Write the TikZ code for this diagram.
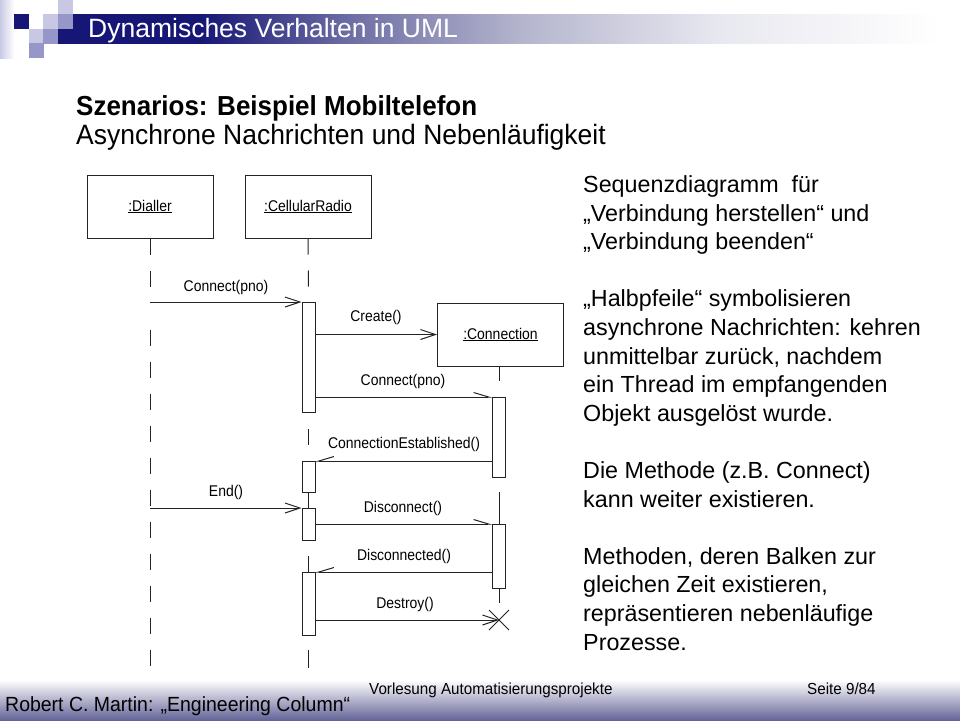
\documentclass[tikz,border=0pt]{standalone}
\usepackage{fontspec}
\setmainfont{Liberation Sans}
\newfontfamily\condfont[FakeStretch=0.95]{Liberation Sans}
\newfontfamily\diafont[FakeStretch=0.9]{Liberation Sans}
\newfontfamily\subfont[FakeStretch=0.945]{Liberation Sans}
\usetikzlibrary{arrows.meta,calc}
\definecolor{navy}{RGB}{22,22,118}
\definecolor{barA}{RGB}{110,110,165}
\definecolor{barB}{RGB}{180,180,205}
\definecolor{barC}{RGB}{232,232,240}
\definecolor{logolight}{RGB}{200,200,228}
\definecolor{logomid}{RGB}{150,150,200}
\definecolor{footblue}{RGB}{100,100,152}
\definecolor{ink}{RGB}{35,35,35}
\pgfdeclarehorizontalshading{titlebar}{100bp}{color(0bp)=(navy); color(25bp)=(navy);
  color(33.05bp)=(navy); color(41.55bp)=(barA); color(51.19bp)=(barB);
  color(62.53bp)=(barC); color(75bp)=(white); color(100bp)=(white)}
\begin{document}
\begin{tikzpicture}[x=1pt,y=-1pt,
  lw/.style={line width=1pt, draw=ink},
  obj/.style={lw, fill=white, minimum width=126pt, minimum height=63pt, inner sep=0pt,
    font=\diafont\fontsize{15.5}{18}\selectfont},
  actbar/.style={lw, fill=white, minimum width=13pt, inner sep=0pt, anchor=north},
  lifeline/.style={lw, dash pattern=on 16pt off 16pt},
  msglabel/.style={font=\diafont\fontsize{15.5}{18}\selectfont, inner sep=0pt, text=black},
  openmsg/.style={lw, -{Straight Barb[length=15pt,width=10pt,line width=1pt]}},
  halfmsg/.style={lw, -{Straight Barb[length=15pt,width=9pt,harpoon,line width=1pt]}},
  halfmsgl/.style={lw, -{Straight Barb[length=15pt,width=9pt,harpoon,swap,line width=1pt]}},
  sq/.style={minimum size=14.5pt, inner sep=0pt, anchor=north west},
  body/.style={anchor=base west, inner sep=0pt, font=\fontsize{23.3}{27}\selectfont},
  foot/.style={anchor=base west, inner sep=0pt, text=black}
]
\useasboundingbox (0,0) rectangle (960,720);
\fill[white] (0,0) rectangle (960,720);

% ---------- header ----------
\shade[left color=logolight, right color=white] (0,0) rectangle (14,58);
\shade[shading=titlebar] (58,14) rectangle (940,43);
\node[sq, fill=navy] (sq1) at (14,14) {};
\node[sq, fill=logolight] (sq2) at (43,14) {};
\node[sq, fill=logolight] (sq3) at (58,0) {};
\node[sq, fill=logomid] (sq4) at (58,14) {};
\node[sq, fill=logolight] (sq5) at (29,29) {};
\node[sq, fill=logomid] (sq6) at (43,29) {};
\node[sq, fill=logomid] (sq7) at (29,43) {};
\node[anchor=base west, inner sep=0pt, text=white, font=\fontsize{26.5}{30}\selectfont]
  (title) at (88,37) {Dynamisches Verhalten in UML};

\node[anchor=base west, inner sep=0pt, font=\subfont\fontsize{27.5}{30}\selectfont\bfseries]
  (sub1) at (76,115.5) {Szenarios: Beispiel Mobiltelefon};
\node[anchor=base west, inner sep=0pt, font=\subfont\fontsize{28}{30}\selectfont]
  (sub2) at (76,144.5) {Asynchrone Nachrichten und Nebenläufigkeit};

% ---------- right text ----------
\node[body] (t1) at (583,192.5) {Sequenzdiagramm\ \ für};
\node[body] (t2) at (583,221.1) {„Verbindung herstellen“\ und};
\node[body] (t3) at (583,249.7) {„Verbindung beenden“};
\node[body] (t4) at (583,306.9) {„Halbpfeile“\ symbolisieren};
\node[body] (t5) at (583,335.5) {asynchrone Nachrichten: kehren};
\node[body] (t6) at (583,364.1) {unmittelbar zurück, nachdem};
\node[body] (t7) at (583,392.7) {ein Thread im empfangenden};
\node[body] (t8) at (583,421.3) {Objekt ausgelöst wurde.};
\node[body] (t9) at (583,478.5) {Die Methode (z.B. Connect)};
\node[body] (t10) at (583,507.1) {kann weiter existieren.};
\node[body] (t11) at (583,564.3) {Methoden, deren Balken zur};
\node[body] (t12) at (583,592.9) {gleichen Zeit existieren,};
\node[body] (t13) at (583,621.5) {repräsentieren nebenläufige};
\node[body] (t14) at (583,650.1) {Prozesse.};

% ---------- sequence diagram ----------
\node[obj] (dial) at (150,206.5) {\underline{:Dialler}};
\node[obj] (cell) at (308,206.5) {\underline{:CellularRadio}};
\node[obj] (conn) at (500.5,334.5) {\underline{:Connection}};

% activation bars
\node[actbar, minimum height=110pt] (cr1) at (308.5,302) {};
\node[actbar, minimum height=31pt] (cr2) at (308.5,461) {};
\node[actbar, minimum height=32pt] (cr3) at (308.5,508) {};
\node[actbar, minimum height=63pt] (cr4) at (308.5,572) {};
\node[actbar, minimum height=80pt] (cn1) at (499,397) {};
\node[actbar, minimum height=64pt] (cn2) at (499,524) {};
\coordinate (xend) at (499,620);

% lifelines
\coordinate (d1) at (150,300);
\coordinate (d2) at (150,330);
\coordinate (d3) at (150,668);
\draw[lifeline] (dial.south) -- (d1);
\draw[lifeline] (d2) -- (d3);
\draw[lifeline] (cell.south) -- (cr1.north);
\coordinate (c1) at (308.5,429);
\coordinate (c2) at (308.5,445);
\draw[lw] (c1) -- (c2);
\draw[lw] (cr2.south) -- (cr3.north);
\coordinate (c3) at (308.5,556);
\draw[lw] (c3) -- (cr4.north);
\coordinate (c4) at (308.5,650);
\coordinate (c5) at (308.5,668);
\draw[lw] (c4) -- (c5);
\coordinate (n1) at (499,381);
\draw[lw] (conn.south -| n1) -- (n1);
\coordinate (n2) at (499,492);
\draw[lw] (n2) -- (cn2.north);
\coordinate (n3) at (499,603);
\draw[lw] (cn2.south) -- (n3);

% destroy cross
\draw[lw] ($(xend)+(-10,-10)$) -- ($(xend)+(10,10)$);
\draw[lw] ($(xend)+(-10,10)$) -- ($(xend)+(10,-10)$);

% messages
\draw[openmsg] (d1 |- cr1.north) -- (cr1.north west);
\draw[openmsg] (cr1.east |- conn.west) -- (conn.west);
\draw[halfmsg] (cr1.east |- cn1.north) -- (cn1.north west);
\draw[halfmsgl] (cn1.west |- cr2.north) -- (cr2.north east);
\draw[openmsg] (d1 |- cr3.north) -- (cr3.north west);
\draw[halfmsg] (cr3.east |- cn2.north) -- (cn2.north west);
\draw[halfmsgl] (cn2.west |- cr4.north) -- (cr4.north east);
\draw[openmsg] (cr4.east |- xend) -- (xend);

% message labels
\node[msglabel] (l1) at (226,287) {Connect(pno)};
\node[msglabel] (l2) at (376,317) {Create()};
\node[msglabel] (l3) at (403,381) {Connect(pno)};
\node[msglabel] (l4) at (404,444.5) {ConnectionEstablished()};
\node[msglabel] (l5) at (226,492) {End()};
\node[msglabel] (l6) at (403,508) {Disconnect()};
\node[msglabel] (l7) at (404,556) {Disconnected()};
\node[msglabel] (l8) at (405,604) {Destroy()};

% ---------- footer ----------
\shade[top color=white, bottom color=footblue] (0,680) rectangle (960,720);
\node[foot, font=\condfont\fontsize{20.5}{24}\selectfont] (f1) at (5,711) {Robert C. Martin: „Engineering Column“};
\node[foot, font=\condfont\fontsize{16}{19}\selectfont] (f2) at (369,694) {Vorlesung Automatisierungsprojekte};
\node[foot, font=\condfont\fontsize{16}{19}\selectfont] (f3) at (807,694) {Seite 9/84};
\end{tikzpicture}
\end{document}
